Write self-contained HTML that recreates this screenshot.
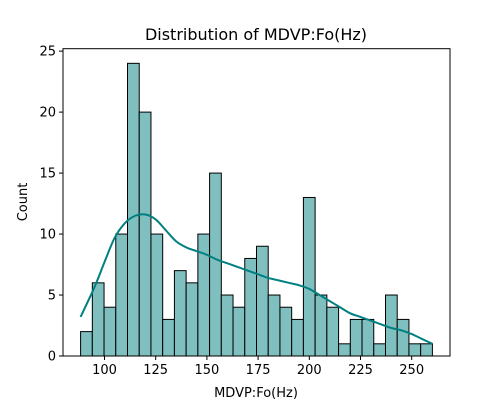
<!DOCTYPE html>
<html><head><meta charset="utf-8"><style>
html,body{margin:0;padding:0;background:#fff;}
svg{display:block;font-family:"DejaVu Sans","Liberation Sans",sans-serif;}
</style></head><body>
<svg id="chart" width="500" height="400" xmlns="http://www.w3.org/2000/svg">
<rect x="0" y="0" width="500" height="400" fill="#fff"/>
<text x="256" y="40" font-size="16" text-anchor="middle">Distribution of MDVP:Fo(Hz)</text>
<g id="bars"></g>
<g id="kde"></g>
<g id="axes"></g>
<text x="256" y="397" font-size="13" text-anchor="middle">MDVP:Fo(Hz)</text>
<text x="0" y="0" font-size="13" text-anchor="middle" transform="translate(27,202) rotate(-90)">Count</text>
</svg>
<script>
const binStart = 88.333;
const binEnd = 260.105;
const counts = [2,6,4,10,24,20,10,3,7,6,10,15,5,4,8,9,5,4,3,13,5,4,1,3,3,1,5,3,1,1];
const kdeX = [88.3,95,100,105,110,115,120,125,130,135,140,145,150,155,160,165,170,175,180,185,190,195,200,205,210,215,220,225,230,235,240,245,250,255,260.1];
const kdeY = [3.2,5.6,7.7,9.7,10.9,11.5,11.6,11.2,10.3,9.4,8.9,8.6,8.3,7.9,7.6,7.3,7.0,6.7,6.4,6.2,6.0,5.8,5.5,5.0,4.5,4.0,3.5,3.2,2.9,2.6,2.3,2.1,1.8,1.4,1.0];
const xTicks = [100,125,150,175,200,225,250];
const yTicks = [0,5,10,15,20,25];

const NS = "http://www.w3.org/2000/svg";
const L = 63, R = 450, T = 48.7, B = 356;
const xMin = 79.74, xMax = 268.7, yMax = 25.2;
const xs = v => L + (v - xMin) / (xMax - xMin) * (R - L);
const ys = v => B - v / yMax * (B - T);
function mk(tag, attrs, parent){const e=document.createElementNS(NS,tag);for(const k in attrs)e.setAttribute(k,attrs[k]);parent.appendChild(e);return e;}

const bars = document.getElementById('bars');
const w = (binEnd - binStart) / counts.length;
counts.forEach((c,i)=>{
  const x0 = xs(binStart + i*w), x1 = xs(binStart + (i+1)*w);
  const r = mk('rect',{x:x0,y:ys(c),width:x1-x0,height:B-ys(c),fill:'#80bfbf',stroke:'#000','stroke-width':1},bars);
  
  
});

const kde = document.getElementById('kde');
const P = kdeX.map((x,i)=>[xs(x), ys(kdeY[i])]);
let d = 'M' + P[0][0].toFixed(2) + ',' + P[0][1].toFixed(2);
for (let i=0;i<P.length-1;i++){
  const p0 = P[Math.max(0,i-1)], p1 = P[i], p2 = P[i+1], p3 = P[Math.min(P.length-1,i+2)];
  const c1 = [p1[0]+(p2[0]-p0[0])/6, p1[1]+(p2[1]-p0[1])/6];
  const c2 = [p2[0]-(p3[0]-p1[0])/6, p2[1]-(p3[1]-p1[1])/6];
  d += ' C'+c1[0].toFixed(2)+','+c1[1].toFixed(2)+' '+c2[0].toFixed(2)+','+c2[1].toFixed(2)+' '+p2[0].toFixed(2)+','+p2[1].toFixed(2);
}
const pl = mk('path',{d:d,fill:'none',stroke:'#008080','stroke-width':2,'stroke-linejoin':'round'},kde);



const axes = document.getElementById('axes');
const frame = mk('rect',{x:L,y:T,width:R-L,height:B-T,fill:'none',stroke:'#000','stroke-width':1},axes);


xTicks.forEach(t=>{
  const x = xs(t);
  mk('line',{x1:x,y1:B,x2:x,y2:B+4,stroke:'#000','stroke-width':1},axes);
  const tx = mk('text',{x:x,y:B+18,'font-size':13,'text-anchor':'middle'},axes);
  tx.textContent = t;
  
  
});
yTicks.forEach(t=>{
  const y = ys(t);
  mk('line',{x1:L-4,y1:y,x2:L,y2:y,stroke:'#000','stroke-width':1},axes);
  const tx = mk('text',{x:L-7,y:y+4.5,'font-size':13,'text-anchor':'end'},axes);
  tx.textContent = t;
  
  
});
</script>
</body></html>
